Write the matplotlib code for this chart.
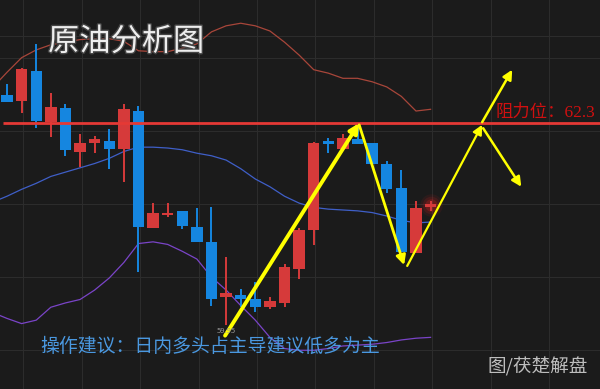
import numpy as np
import matplotlib
matplotlib.use("Agg")
import matplotlib.pyplot as plt
import matplotlib.patheffects as pe

plt.rcParams['font.family'] = ['Noto Sans CJK SC', 'DejaVu Sans']

# K线数据 (原油, 读图估计)
opens = [62.63, 62.56, 62.90, 62.31, 62.47, 61.96, 62.07, 62.09, 62.00, 62.44,
         61.08, 61.23, 61.28, 61.09, 60.92, 60.28, 60.30, 60.26, 60.16, 60.21,
         60.60, 61.06, 62.07, 62.00, 62.11, 62.07, 61.82, 61.54, 60.79, 61.33]
highs = [62.75, 62.94, 63.22, 62.65, 62.52, 62.17, 62.15, 62.23, 62.52, 62.50,
         61.37, 61.37, 61.28, 61.31, 61.32, 60.74, 60.37, 60.45, 60.28, 60.66,
         61.08, 62.08, 62.13, 62.17, 62.28, 62.07, 61.86, 61.75, 61.40, 61.40]
lows = [62.54, 62.42, 62.24, 62.14, 61.92, 61.79, 61.95, 61.77, 61.61, 60.57,
        61.08, 61.21, 61.07, 60.92, 60.18, 59.95, 60.16, 60.11, 60.14, 60.16,
        60.49, 60.88, 61.95, 62.00, 62.06, 61.83, 61.49, 60.80, 60.79, 61.28]
closes = [62.54, 62.93, 62.32, 62.49, 61.99, 62.07, 62.11, 62.00, 62.46, 61.09,
          61.25, 61.26, 61.10, 60.92, 60.26, 60.32, 60.25, 60.16, 60.23, 60.63,
          61.06, 62.07, 62.06, 62.13, 62.06, 61.83, 61.53, 60.80, 61.31, 61.35]

# 布林带 (从 index -1 开始)
boll_up = [62.71, 62.89, 63.06, 63.15, 63.21, 63.24, 63.27, 63.28, 63.28, 63.25, 63.14,
           63.13, 63.13, 63.17, 63.22, 63.36, 63.43, 63.46, 63.43, 63.37, 63.24,
           63.09, 62.92, 62.88, 62.82, 62.82, 62.78, 62.72, 62.61, 62.44, 62.46]
boll_mid = [61.38, 61.45, 61.53, 61.60, 61.68, 61.73, 61.78, 61.83, 61.89, 61.97, 62.02,
            62.02, 62.01, 61.99, 61.95, 61.92, 61.87, 61.77, 61.65, 61.56, 61.45,
            61.37, 61.32, 61.30, 61.29, 61.28, 61.26, 61.22, 61.17, 61.14, 61.15]
boll_low = [60.10, 60.03, 59.97, 60.01, 60.16, 60.21, 60.25, 60.36, 60.50, 60.68, 60.90,
            60.92, 60.89, 60.81, 60.72, 60.51, 60.36, 60.18, 60.01, 59.81, 59.68,
            59.66, 59.66, 59.68, 59.71, 59.72, 59.73, 59.75, 59.78, 59.80, 59.81]

resist = 62.3
low_label = "59.95"

# 走势箭头 (起点, 终点, 线宽)
arrows = [((14.93, 59.83), (24.11, 62.30), 2.8),
          ((24.11, 62.28), (27.19, 60.65), 2.0),
          ((27.40, 60.64), (32.53, 62.28), 1.6),
          ((32.53, 62.31), (34.59, 62.92), 1.8),
          ((32.60, 62.24), (35.21, 61.56), 1.8)]

bg = '#1b1b1b'
red = '#d63a3a'
blue = '#1586e0'

fig = plt.figure(figsize=(6, 3.89), dpi=100, facecolor=bg)
ax = fig.add_axes([0, 0, 1, 1], facecolor=bg)

ax.set_xlim(-0.48, 40.6)
ax.set_ylim(59.21, 63.73)
ax.set_xticks(np.arange(1.12, 41, 4))
ax.set_yticks([59.66, 60.51, 61.36, 62.21, 63.06, 63.31])
ax.grid(True, color='#2c2c2c', lw=0.8)
ax.tick_params(length=0, labelbottom=False, labelleft=False)
for s in ax.spines.values():
    s.set_visible(False)

o = np.array(opens); c = np.array(closes)
h = np.array(highs); l = np.array(lows)
idx = np.arange(len(o))
cols = [red if cc >= oo else blue for oo, cc in zip(o, c)]

# 布林带
bx = np.arange(-1, len(boll_up) - 1)
ax.plot(bx, boll_up, color='#a8463a', lw=0.9, zorder=2)
ax.plot(bx, boll_mid, color='#3f5fc8', lw=0.9, zorder=2)
ax.plot(bx, boll_low, color='#7a44c8', lw=0.9, zorder=2)

# 蜡烛
ax.vlines(idx, l, h, colors=cols, lw=1.4, zorder=3)
body_bot = np.minimum(o, c)
body_h = np.maximum(np.abs(c - o), 0.03)
ax.bar(idx, body_h, bottom=body_bot, width=0.78, color=cols, zorder=4)

# 阻力线
ax.hlines(resist, -0.27, 41, color='#e53935', lw=2.0, zorder=5)

# 最后一根的红色光晕
for s_, a_ in [(260, 0.08), (160, 0.12), (80, 0.2)]:
    ax.scatter([idx[-1]], [c[-1]], s=s_, color='#ff2020', alpha=a_, lw=0, zorder=2.5)

for (p0, p1, lw) in arrows:
    ax.annotate('', xy=p1, xytext=p0,
                arrowprops=dict(arrowstyle='-|>', color='#ffff00', lw=lw,
                                mutation_scale=14, shrinkA=0, shrinkB=0),
                zorder=6)

ax.text(0.08, 0.893, '原油分析图', transform=ax.transAxes, fontsize=22.5,
        color='#eeeeee', va='center', ha='left', zorder=7,
        path_effects=[pe.withStroke(linewidth=2, foreground='#444444')])
ax.text(0.825, 0.71, '阻力位：62.3', transform=ax.transAxes, fontsize=12.5,
        color='#d01010', va='center', ha='left', zorder=7,
        family=['Liberation Serif', 'Noto Sans CJK SC'])
ax.text(0.067, 0.11, '操作建议：日内多头占主导建议低多为主', transform=ax.transAxes,
        fontsize=13.6, color='#4a98e0', va='center', ha='left', zorder=7)
ax.text(0.813, 0.057, '图/茯楚解盘', transform=ax.transAxes, fontsize=13.4,
        color='#bdbdbd', va='center', ha='left', zorder=7)
ax.text(15, 59.88, low_label, fontsize=5.5, color='#9a9a9a', ha='center', va='center',
        zorder=7)

fig.savefig('out.png', dpi=100, facecolor=bg)
